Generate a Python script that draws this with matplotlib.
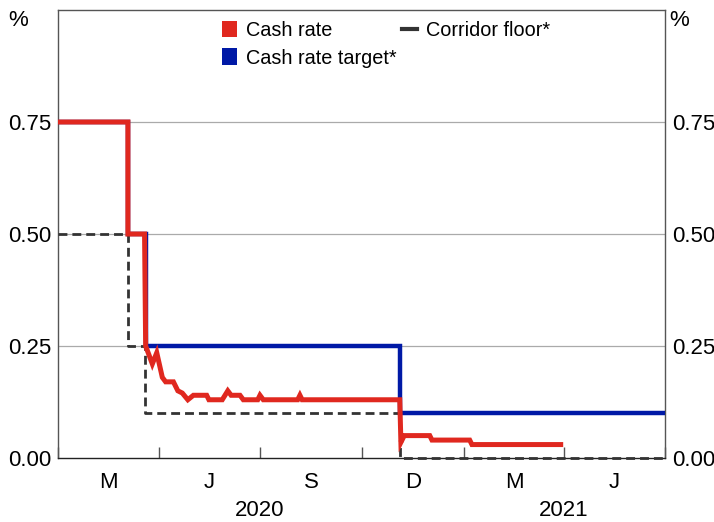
import matplotlib
matplotlib.use("Agg")
import matplotlib.pyplot as plt
import matplotlib.dates as mdates
from matplotlib.patches import Patch
from matplotlib.lines import Line2D
import numpy as np
import datetime as dt

plt.rcParams['font.family'] = ['Liberation Sans', 'DejaVu Sans']

# ---- data ----
cash_dates = ["2020-01-01", "2020-03-04", "2020-03-04", "2020-03-19", "2020-03-20",
              "2020-03-26", "2020-03-30", "2020-04-04", "2020-04-07", "2020-04-14",
              "2020-04-18", "2020-04-22", "2020-04-27", "2020-05-02", "2020-05-14",
              "2020-05-16", "2020-05-28", "2020-06-02", "2020-06-05", "2020-06-13",
              "2020-06-16", "2020-06-29", "2020-07-01", "2020-07-04", "2020-08-04",
              "2020-08-06", "2020-08-08", "2020-11-04", "2020-11-05", "2020-11-08",
              "2020-12-01", "2020-12-03", "2021-01-06", "2021-01-08", "2021-03-29"]
cash_values = [0.75, 0.75, 0.50, 0.50, 0.25,
               0.21, 0.235, 0.18, 0.17, 0.17,
               0.15, 0.145, 0.13, 0.14, 0.14,
               0.13, 0.13, 0.15, 0.14, 0.14,
               0.13, 0.13, 0.14, 0.13, 0.13,
               0.14, 0.13, 0.13, 0.035, 0.05,
               0.05, 0.04, 0.04, 0.03, 0.03]

target_dates = ["2020-01-01", "2020-03-04", "2020-03-20", "2020-11-04", "2021-07-01"]
target_values = [0.75, 0.50, 0.25, 0.10, 0.10]

floor_dates = ["2020-01-01", "2020-03-04", "2020-03-19", "2020-11-04", "2021-07-01"]
floor_values = [0.50, 0.25, 0.10, 0.00, 0.00]

quarter_labels = ["M", "J", "S", "D", "M", "J"]
year_labels = ["2020", "2021"]
y_ticks = [0.00, 0.25, 0.50, 0.75]

def d(s):
    return dt.datetime.strptime(s, "%Y-%m-%d")

RED = "#E0281F"
BLUE = "#0019A6"
DARK = "#333333"
FS = 16

fig = plt.figure(figsize=(7.14, 5.22), dpi=100)
ax = fig.add_axes([58/714, 1-458/522, (665-58)/714, (458-10)/522])

x0, x1 = d("2020-01-01"), d("2021-07-01")
ax.set_xlim(x0, x1)
ax.set_ylim(0, 1.0)

for yv in [0.25, 0.50, 0.75]:
    ax.axhline(yv, color="#AAAAAA", lw=0.9, zorder=1)

ax.step([d(s) for s in target_dates], target_values, where="post",
        color=BLUE, lw=3.2, zorder=3, solid_joinstyle="miter")
ax.step([d(s) for s in floor_dates], floor_values, where="post",
        color=DARK, lw=2.0, ls=(0, (3.2, 1.8)), zorder=4, clip_on=False)
ax.plot([d(s) for s in cash_dates], cash_values,
        color=RED, lw=3.6, zorder=5, solid_joinstyle="miter")

# axes styling
for sp in ax.spines.values():
    sp.set_color("#555555")
    sp.set_linewidth(1.0)
ax.spines["bottom"].set_color("#222222")

q_bounds = [d(s) for s in ["2020-01-01", "2020-04-01", "2020-07-01", "2020-10-01",
                           "2021-01-01", "2021-04-01", "2021-07-01"]]
ax.set_xticks(q_bounds)
ax.set_xticklabels([])
mids = [q_bounds[i] + (q_bounds[i+1] - q_bounds[i]) / 2 for i in range(6)]
ax.set_xticks(mids, minor=True)
ax.set_xticklabels(quarter_labels, minor=True, fontsize=FS)
ax.tick_params(axis="x", which="major", direction="in", length=8, width=1, color="#555555")
ax.tick_params(axis="x", which="minor", length=0, pad=10)

ax.set_yticks(y_ticks)
ax.set_yticklabels([f"{v:.2f}" for v in y_ticks])
ax.tick_params(axis="y", which="both", length=0, labelsize=FS, pad=5,
               left=True, right=True, labelleft=True, labelright=True)

# year labels
trans = matplotlib.transforms.blended_transform_factory(ax.transData, fig.transFigure)
ax.text(mdates.date2num(d("2020-07-01")), 1-510/522, year_labels[0], transform=trans,
        ha="center", va="center", fontsize=FS)
ax.text(mdates.date2num(d("2021-04-01")), 1-510/522, year_labels[1], transform=trans,
        ha="center", va="center", fontsize=FS)

# percent labels
fig.text(18/714, 1-20/522, "%", ha="center", va="center", fontsize=FS)
fig.text(679/714, 1-20/522, "%", ha="center", va="center", fontsize=FS)

handles = [Patch(facecolor=RED, edgecolor="none", label="Cash rate"),
           Patch(facecolor=BLUE, edgecolor="none", label="Cash rate target*"),
           Line2D([0], [0], color=DARK, lw=3, label="Corridor floor*")]
leg = fig.legend(handles=handles, ncol=2, loc="upper left",
                 bbox_to_anchor=(222/714, 1-21/522), bbox_transform=fig.transFigure,
                 frameon=False, fontsize=14.3, handlelength=0.75, handleheight=0.9,
                 handletextpad=0.45, columnspacing=0.3, labelspacing=0.42,
                 borderaxespad=0, borderpad=0)

fig.savefig("out.png", dpi=100)
